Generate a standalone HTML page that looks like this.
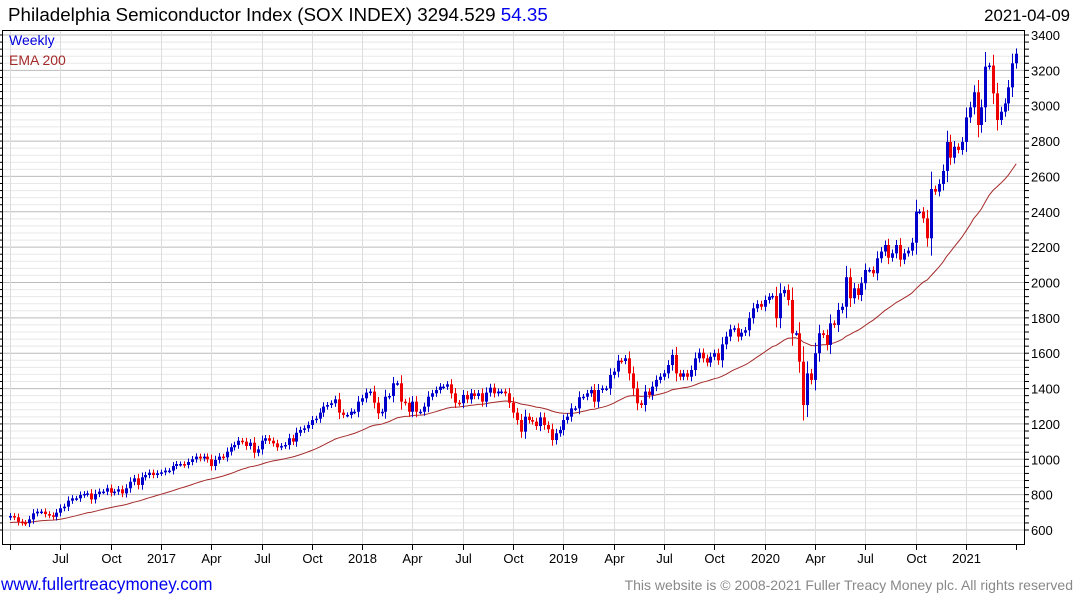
<!DOCTYPE html>
<html><head><meta charset="utf-8"><style>
body{margin:0;background:#fff;width:1075px;height:600px;overflow:hidden;font-family:"Liberation Sans",sans-serif}
svg{display:block}
</style></head><body>
<svg id="c" width="1075" height="600" xmlns="http://www.w3.org/2000/svg">
<text x="8" y="21" font-size="18.8" fill="#000">Philadelphia Semiconductor Index (SOX INDEX) 3294.529 <tspan fill="#0000ee">54.35</tspan></text>
<text x="1070" y="21" font-size="16.8" fill="#000" text-anchor="end">2021-04-09</text>
<g id="grid"></g>
<g id="ema"></g>
<g id="candles"></g>
<rect x="2.5" y="30.5" width="1022" height="514" fill="none" stroke="#000" stroke-width="1"/>
<g id="axes"></g>
<text x="9" y="45" font-size="14" fill="#0000dd">Weekly</text>
<text x="9" y="65" font-size="14" fill="#a52a2a">EMA 200</text>
<text x="1" y="590" font-size="17.1" fill="#0000ee">www.fullertreacymoney.com</text>
<text x="1073" y="590" font-size="14" fill="#888" text-anchor="end">This website is © 2008-2021 Fuller Treacy Money plc. All rights reserved</text>
</svg>
<script>
const closes=[679,672,647,641,638,660,694,704,704,690,683,675,698,723,732,766,779,779,798,804,807,773,804,817,817,836,811,817,830,807,836,873,892,855,898,911,924,911,921,926,936,936,962,973,973,968,985,1000,1015,1005,1015,1000,962,996,1015,1011,1043,1068,1081,1105,1100,1075,1094,1037,1056,1105,1119,1105,1090,1068,1075,1081,1119,1100,1150,1166,1175,1194,1222,1230,1264,1298,1307,1317,1339,1264,1251,1251,1269,1269,1326,
1345,1377,1383,1320,1260,1269,1354,1358,1430,1430,1326,1320,1269,1326,1269,1269,1298,1354,1373,1392,1411,1411,1424,1373,1320,1317,1364,1339,1373,1358,1373,1326,1377,1405,1373,1383,1383,1373,1320,1264,1222,1156,1241,1222,1213,1188,1237,1194,1170,1109,1147,1166,1222,1241,1288,1288,1351,1354,1373,1392,1326,1392,1401,1401,1477,1496,1558,1556,1571,1486,1401,1317,1307,1383,1364,1411,1449,1467,1486,1533,1590,1486,1467,1486,1467,
1505,1571,1603,1571,1547,1580,1600,1560,1650,1694,1735,1741,1694,1716,1730,1798,1854,1878,1863,1901,1920,1924,1798,1939,1958,1901,1713,1713,1552,1307,1486,1449,1600,1713,1703,1647,1769,1760,1845,1863,2030,1911,1967,1929,1996,2071,2071,2052,2137,2175,
2212,2140,2165,2212,2129,2165,2180,2225,2401,2401,2363,2250,2529,2514,2557,2631,2795,2706,2768,2750,2795,2934,2991,3076,2891,2991,3221,3227,3070,2919,2966,3013,3104,3240,3294];
const firstOpen=672;
const emaSeed=640;
const emaPeriod=40;
const yTicks=[600,800,1000,1200,1400,1600,1800,2000,2200,2400,2600,2800,3000,3200,3400];
const xLabels=["","Jul","Oct","2017","Apr","Jul","Oct","2018","Apr","Jul","Oct","2019","Apr","Jul","Oct","2020","Apr","Jul","Oct","2021",""];
const xLabelWeeks=[0,13,26,39,52,65,78,91,104,117,130,143,156,169,182,195,208,221,234,247,260];

const NS="http://www.w3.org/2000/svg";
function y(v){return 530-(v-600)*(495/2800);}
function x(i){return 10+i*3.87;}
function mk(t,a,p){const e=document.createElementNS(NS,t);for(const k in a)e.setAttribute(k,a[k]);p.appendChild(e);return e;}
const grid=document.getElementById('grid'),axes=document.getElementById('axes');
for(let v=600;v<=3400;v+=40){
  const major=(v%200===0);
  const l=mk('line',{x1:3,x2:1024,y1:y(v),y2:y(v),stroke:major?'#bbbbbb':'#e8e8e8','stroke-width':1},grid);
  
  
  const t=mk('line',{x1:1025,x2:1029,y1:y(v),y2:y(v),stroke:'#000'},axes);
  
  
  const lt=mk('line',{x1:0,x2:3,y1:y(v),y2:y(v),stroke:'#000'},axes);
  
  
}
yTicks.forEach(v=>{
  const t=mk('text',{x:1031,y:y(v)+5,'font-size':13,fill:'#000'},axes);
  t.textContent=v;
  
  
});
xLabelWeeks.forEach((w,k)=>{
  const xx=Math.round(x(w))+0.5;
  if(k<xLabelWeeks.length-1){
    const g=mk('line',{x1:xx,x2:xx,y1:31,y2:544,stroke:'#dddddd'},grid);
    
    
  }
  const t=mk('line',{x1:xx,x2:xx,y1:545,y2:550,stroke:'#000'},axes);
  
  
  if(xLabels[k]){
    const tl=mk('text',{x:xx,y:563,'font-size':13,fill:'#000','text-anchor':'middle'},axes);
    tl.textContent=xLabels[k];
    
    
  }
});
let e=emaSeed,pts=[];const kf=2/(emaPeriod+1);
closes.forEach((c,i)=>{e=e+kf*(c-e);pts.push(x(i).toFixed(1)+','+y(e).toFixed(1));});
const pl=mk('polyline',{points:pts.join(' '),fill:'none',stroke:'#a52a2a','stroke-width':1},document.getElementById('ema'));


const cg=document.getElementById('candles');
closes.forEach((c,i)=>{
  const o=i===0?firstOpen:closes[i-1];
  const up=c>=o,col=up?'#0000cc':'#ee0000';
  const top=y(Math.max(o,c)),bot=y(Math.min(o,c));
  const body=bot-top,ext=2.5+body*0.3;
  const xx=Math.round(x(i));
  const w=mk('line',{x1:xx+0.5,x2:xx+0.5,y1:top-ext,y2:bot+ext,stroke:col,'stroke-width':1},cg);
  
  
  const b=mk('rect',{x:xx-1,y:top,width:3,height:Math.max(1.5,body),fill:col},cg);
  
  
});
</script>
</body></html>
